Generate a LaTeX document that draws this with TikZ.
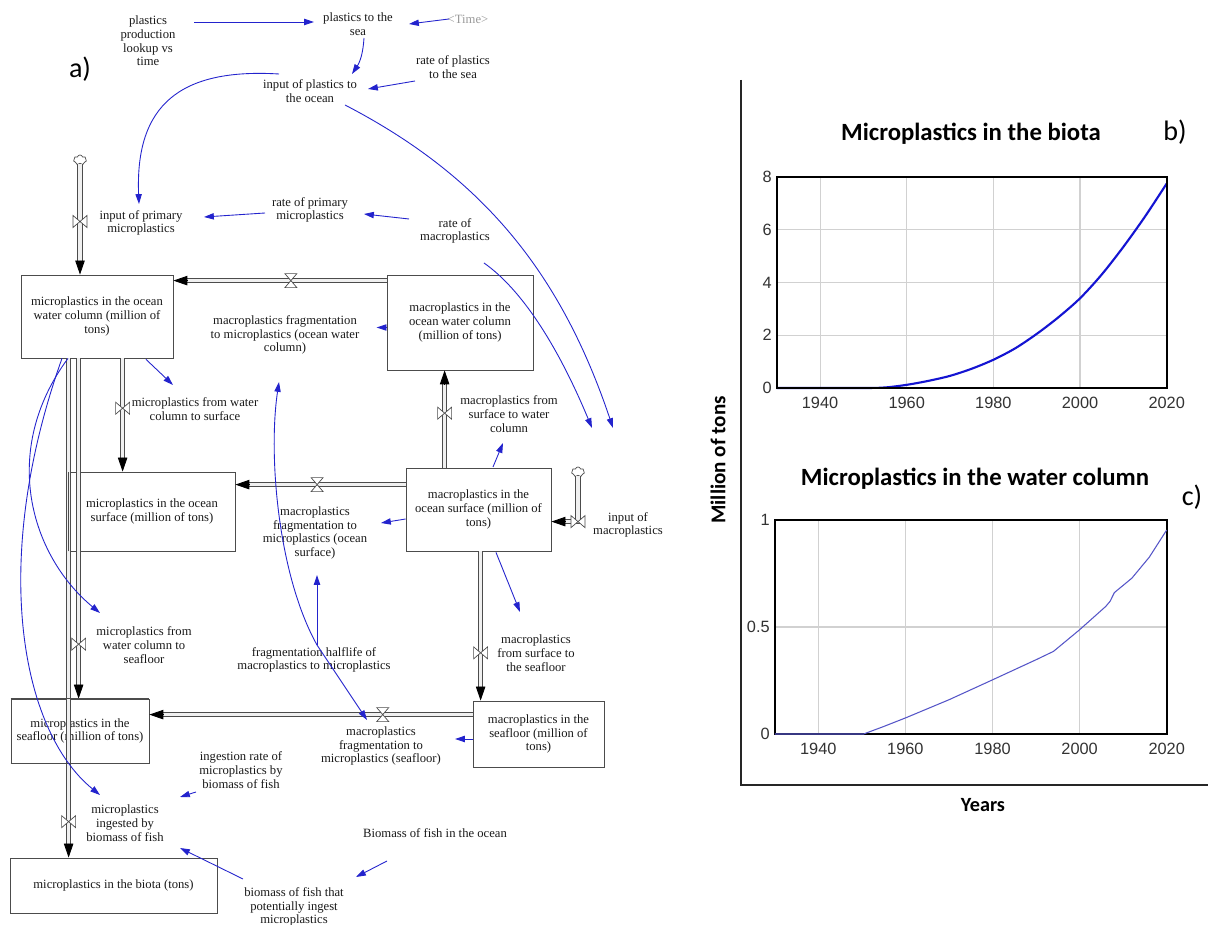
\documentclass[tikz,border=0pt]{standalone}
\usepackage{fontspec}
\setmainfont{Liberation Serif}
\newfontfamily\chartfont{Liberation Sans}
\newfontfamily\calib{Carlito}
\usetikzlibrary{arrows.meta,calc,shapes.symbols}
\definecolor{vblue}{RGB}{35,35,205}
\definecolor{cblue}{RGB}{20,20,210}
\definecolor{cbluetwo}{RGB}{85,85,200}
\newcommand\vfont{\fontsize{7.2}{7.8}\selectfont}
\newcommand\bowvalve[1]{\draw[valve,shift={(#1)}] (-7,-6) -- (-7,6) -- (7,-6) -- (7,6) -- cycle;}
\newcommand\hgvalve[1]{\draw[valve,shift={(#1)}] (-6,-7) -- (6,-7) -- (-6,7) -- (6,7) -- cycle;}
\newcommand\flowpipe[2]{\draw[pipe,shorten >=7pt] (#1) -- (#2); \draw[pipetip] ($(#2)!8pt!(#1)$) -- (#2);}
\begin{document}
\begin{tikzpicture}[x=0.02cm,y=-0.02cm,
 vtxt/.style={font=\vfont, align=center, inner sep=0pt, text=black!90},
 box/.style={draw=black!70, line width=0.45pt, font=\vfont, align=center, inner sep=0pt, text=black!90},
 boxline/.style={draw=black!70, line width=0.45pt},
 inf/.style={draw=vblue, line width=0.5pt, -{Triangle[length=5.6pt,width=3.6pt]}},
 pipe/.style={draw=black!70, line width=0.55pt, double=black!6, double distance=1.8pt},
 pipetip/.style={-{Triangle[length=8pt,width=5.4pt]}, line width=0.5pt, draw=black},
 valve/.style={draw=black!70, fill=white, line width=0.4pt},
 src/.style={cloud, cloud puffs=7, aspect=1.3, draw=black!70, fill=white, line width=0.4pt, minimum width=0.26cm, minimum height=0.2cm, inner sep=0pt},
 ticklbl/.style={font=\chartfont\fontsize{9.3}{11}\selectfont, text=black!80, inner sep=0pt},
 gridln/.style={draw=black!18, line width=0.6pt},
]
\useasboundingbox (0,0) rectangle (1208,925);
\fill[white] (0,0) rectangle (1208,925);

% ---------- stocks ----------
\node[box, minimum width=3.04cm, minimum height=1.66cm] (mwc) at (97,316.5) {microplastics in the ocean\\water column (million of\\tons)};
\node[box, minimum width=2.92cm, minimum height=1.9cm] (awc) at (460,322.5) {macroplastics in the\\ocean water column\\(million of tons)};
\node[box, minimum width=3.32cm, minimum height=1.58cm] (msf) at (152,511.5) {microplastics in the ocean\\surface (million of tons)};
\node[box, minimum width=2.9cm, minimum height=1.66cm] (asf) at (478.5,509.5) {macroplastics in the\\ocean surface (million of\\tons)};
\node[box, minimum width=2.76cm, minimum height=1.28cm] (msb) at (80,731) {microplastics in the\\seafloor (million of tons)};
\node[box, minimum width=2.62cm, minimum height=1.32cm] (asb) at (538.5,734) {macroplastics in the\\seafloor (million of\\tons)};
\node[box, minimum width=4.14cm, minimum height=1.1cm] (mbi) at (113.5,885.5) {microplastics in the biota (tons)};

% ---------- auxiliaries ----------
\node[vtxt] (plook) at (148,41) {plastics\\production\\lookup vs\\time};
\node[vtxt] (psea) at (358,24) {plastics to the\\sea};
\node[vtxt, text=black!40] (time) at (468,19) {<Time>};
\node[vtxt] (ipo) at (310,91) {input of plastics to\\the ocean};
\node[vtxt] (rps) at (453,67) {rate of plastics\\to the sea};
\node[vtxt] (ipm) at (141,223) {input of primary\\microplastics};
\node[vtxt] (rpm) at (310,210) {rate of primary\\microplastics};
\node[vtxt] (rma) at (455,231) {rate of\\macroplastics};
\node[vtxt] (fwc) at (285,335) {macroplastics fragmentation\\to microplastics (ocean water\\column)};
\node[vtxt] (mws) at (195,409) {microplastics from water\\column to surface};
\node[vtxt] (msw) at (509,414) {macroplastics from\\surface to water\\column};
\node[vtxt] (fos) at (315,533) {macroplastics\\fragmentation to\\microplastics (ocean\\surface)};
\node[vtxt] (ima) at (628,525) {input of\\macroplastics};
\node[vtxt] (hl) at (314,660) {fragmentation halflife of\\macroplastics to microplastics};
\node[vtxt] (mwsf) at (144,645) {microplastics from\\water column to\\seafloor};
\node[vtxt] (mssf) at (536,653) {macroplastics\\from surface to\\the seafloor};
\node[vtxt] (fsf) at (381,746) {macroplastics\\fragmentation to\\microplastics (seafloor)};
\node[vtxt] (ir) at (241,770) {ingestion rate of\\microplastics by\\biomass of fish};
\node[vtxt] (ing) at (125,823) {microplastics\\ingested by\\biomass of fish};
\node[vtxt] (bfo) at (435,833) {Biomass of fish in the ocean};
\node[vtxt] (bfp) at (294,907) {biomass of fish that\\potentially ingest\\microplastics};

\node[font=\calib\fontsize{16}{18}\selectfont] (la) at (80,69) {a)};

% ---------- flows ----------
\node[src] (src1) at (80,160) {};
\coordinate (p1b) at (mwc.north -| src1.south);
\flowpipe{src1.south}{p1b}
\bowvalve{$(src1.south)!0.52!(p1b)$}

\coordinate (p2a) at ($(awc.north west)+(0,6)$);
\coordinate (p2b) at (p2a -| mwc.east);
\flowpipe{p2a}{p2b}
\hgvalve{$(p2a)!0.449!(p2b)$}

\coordinate (p3a) at ($(mwc.south west)+(102,0)$);
\coordinate (p3b) at (p3a |- msf.north);
\flowpipe{p3a}{p3b}
\bowvalve{$(p3a)!0.44!(p3b)$}

\coordinate (p4a) at ($(asf.north west)+(39,0)$);
\coordinate (p4b) at (p4a |- awc.south);
\flowpipe{p4a}{p4b}
\bowvalve{$(p4a)!0.56!(p4b)$}

\coordinate (p5a) at ($(asf.north west)+(0,17)$);
\coordinate (p5b) at (p5a -| msf.east);
\flowpipe{p5a}{p5b}
\hgvalve{$(p5a)!0.52!(p5b)$}

\node[src] (src2) at (578,472) {};
\coordinate (p6b) at ($(asf.north east)+(0,54)$);
\coordinate (p6c) at (p6b -| src2.south);
\draw[pipe, shorten >=7pt] (src2.south) -- (p6c) -- (p6b);
\draw[pipetip] ($(p6b)!8pt!(p6c)$) -- (p6b);
\bowvalve{p6c}

\coordinate (p7a) at ($(asf.south west)+(75,0)$);
\coordinate (p7b) at (p7a |- asb.north);
\flowpipe{p7a}{p7b}
\bowvalve{$(p7a)!0.68!(p7b)$}

\coordinate (p8a) at ($(asb.north west)+(0,14)$);
\coordinate (p8b) at (p8a -| msb.east);
\flowpipe{p8a}{p8b}
\hgvalve{$(p8a)!0.278!(p8b)$}

\coordinate (p9a) at ($(mwc.south west)+(58,0)$);
\coordinate (p9b) at (p9a |- msb.north);
\flowpipe{p9a}{p9b}
\bowvalve{$(p9a)!0.84!(p9b)$}

\coordinate (p10a) at ($(mwc.south west)+(48,0)$);
\coordinate (p10b) at (p10a |- mbi.north);
\flowpipe{p10a}{p10b}
\bowvalve{$(p10a)!0.928!(p10b)$}

% box borders crossed by pipes stay visible
\draw[boxline] (msf.south west) -- (msf.north west);
\draw[boxline] (msb.north west) -- (msb.north east);
\draw[boxline] (msb.south west) -- (msb.south east);

% ---------- information links ----------
\draw[inf] ($(plook)+(46,-19)$) -- ($(psea)+(-44,-2)$);
\draw[inf] ($(time)+(-19,0)$) -- ($(psea)+(51,0)$);
\draw[inf] ($(psea)+(6,14)$) to[bend left=15] ($(ipo)+(42,-17)$);
\draw[inf] ($(rps)+(-38,14)$) -- ($(ipo)+(58,-2)$);
\draw[inf] ($(ipo)+(-31,-17)$) .. controls +(-99,-6) and +(-4,-99) .. ($(ipm)+(-2,-19)$);
\draw[inf] ($(ipo)+(35,14)$) .. controls +(135,70) and +(-53,-158) .. ($(ima)+(-15,-97)$);
\draw[inf] ($(rma)+(-46,-12)$) -- ($(rpm)+(54,4)$);
\draw[inf] ($(rpm)+(-45,3)$) -- ($(ipm)+(63,-6)$);
\draw[inf] ($(rma)+(29,32)$) .. controls +(37,26) and +(-35,-84) .. ($(ima)+(-36,-97)$);
\draw[inf] ($(awc.west)+(0,5)$) -- ($(awc.west)+(-10,5)$);
\draw[inf] ($(mwc.south)+(49,1)$) -- ($(mws)+(-22,-24)$);
\draw[inf] ($(hl)+(3,-15)$) .. controls +(-39,-70) and +(-11,73) .. ($(fwc)+(-6,47)$);
\draw[inf] ($(hl)+(3,-15)$) -- ($(fsf)+(-14,-26)$);
\draw[inf] ($(hl)+(3,-15)$) -- ($(fos)+(2,42)$);
\draw[inf] ($(asf)+(14.5,-42.5)$) -- ($(msw)+(-6,29)$);
\draw[inf] ($(asf.west)+(0,9.5)$) -- ($(fos)+(66,-10)$);
\draw[inf] ($(mwc.south)+(-35,0)$) .. controls +(-72,202) and +(-80,-65) .. ($(ing)+(-25,-28)$);
\draw[inf] ($(mwc.south)+(-29,0)$) .. controls +(-68,92) and +(-70,-58) .. ($(mwsf)+(-44,-32)$);
\draw[inf] ($(asf.south)+(17.5,1)$) -- ($(mssf)+(-16,-41)$);
\draw[inf] ($(asb.west)+(0,5)$) -- ($(fsf)+(74,-7)$);
\draw[inf] ($(ir)+(-45,22)$) -- ($(ing)+(55,-26)$);
\draw[inf] ($(bfo)+(-48,28)$) -- ($(bfp)+(62,-30)$);
\draw[inf] ($(bfp)+(-51,-28)$) -- ($(ing)+(55,25)$);

% ---------- charts ----------
\draw[line width=0.8pt, black!85] (741,80) -- (741,785) -- (1208,785);

\begin{scope}[shift={(776.7,388)}, xscale=4.333, yscale=26.375]
 \foreach \t in {10,30,50,70} \draw[gridln] (\t,0) -- (\t,-8);
 \foreach \v in {2,4,6} \draw[gridln] (0,-\v) -- (90,-\v);
 \draw[cblue, line width=1.2pt] plot[smooth, tension=0.5] coordinates {(0,0) (20,0) (25,-0.02) (30,-0.12) (35,-0.27) (40,-0.46) (45,-0.73) (50,-1.07) (55,-1.5) (60,-2.05) (65,-2.68) (70,-3.4) (75,-4.3) (80,-5.35) (85,-6.5) (90,-7.75)};
 \draw[line width=1pt] (0,0) rectangle (90,-8);
\end{scope}

\begin{scope}[shift={(774.8,734)}, xscale=4.354, yscale=214]
 \foreach \t in {10,30,50,70} \draw[gridln] (\t,0) -- (\t,-1);
 \draw[gridln] (0,-0.5) -- (90,-0.5);
 \draw[line width=1pt] (0,0) rectangle (90,-1);
 \draw[cbluetwo, line width=0.6pt] (0,0) -- (20.4,0) -- (25,-0.035) -- (30,-0.075) -- (40,-0.16) -- (50,-0.253) -- (60,-0.347) -- (64,-0.386) -- (70,-0.487) -- (76,-0.596) -- (77,-0.62) -- (78,-0.661) -- (82,-0.728) -- (86,-0.826) -- (90,-0.953);
\end{scope}

\foreach \yr/\x in {1940/820,1960/906.7,1980/993.4,2000/1080,2020/1166.7} \node[ticklbl] at (\x,403) {\yr};
\foreach \v/\y in {0/388,2/335.25,4/282.5,6/229.75,8/177} \node[ticklbl, anchor=east] at (772,\y) {\v};
\foreach \yr/\x in {1940/818.3,1960/905.4,1980/992.5,2000/1079.6,2020/1166.7} \node[ticklbl] at (\x,749) {\yr};
\foreach \v/\y in {0/734,0.5/627,1/520} \node[ticklbl, anchor=east] at (770,\y) {\v};

\node[font=\calib\bfseries\fontsize{14.1}{16}\selectfont] (tb) at (971,134) {Microplastics in the biota};
\node[font=\calib\bfseries\fontsize{14.1}{16}\selectfont] (tc) at (975,479) {Microplastics in the water column};
\node[font=\calib\fontsize{16}{18}\selectfont] (lb) at (1175,132) {b)};
\node[font=\calib\fontsize{16}{18}\selectfont] (lc) at (1192,497) {c)};
\node[font=\calib\bfseries\fontsize{11.5}{13}\selectfont] (yrs) at (983,805) {Years};
\node[rotate=90, font=\calib\bfseries\fontsize{12}{14}\selectfont] (mot) at (718,460) {Million of tons};
\end{tikzpicture}
\end{document}
